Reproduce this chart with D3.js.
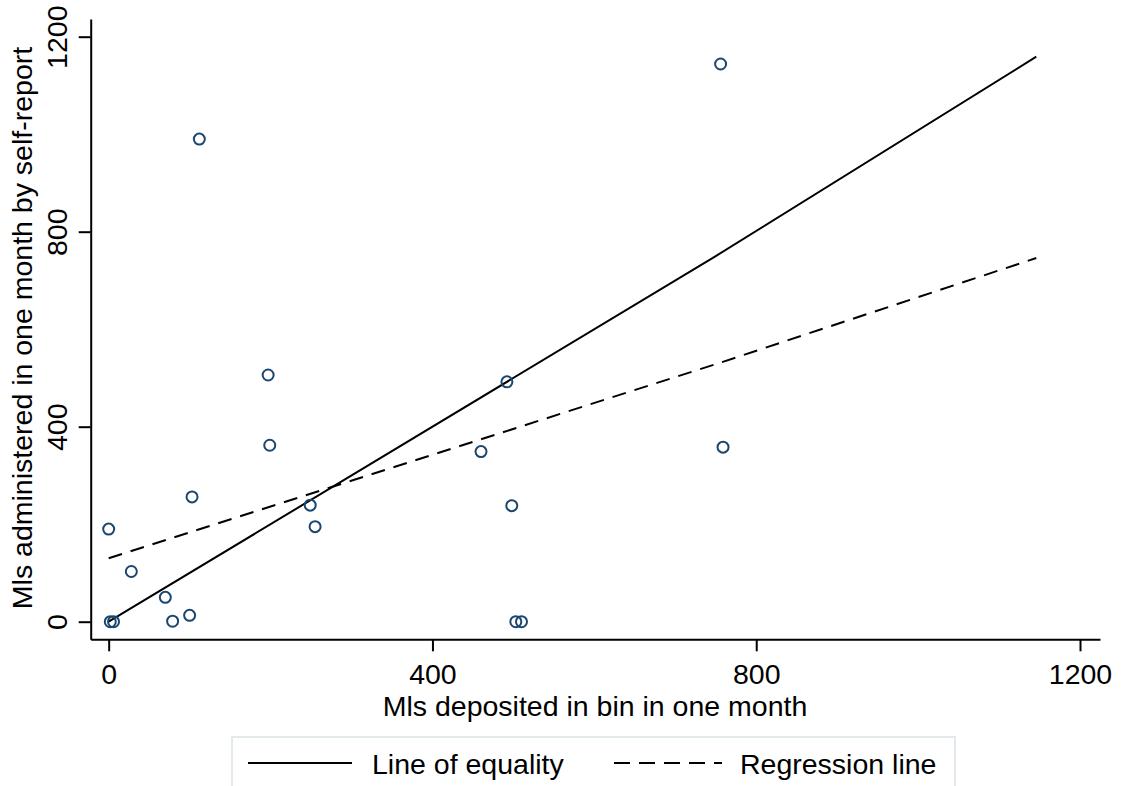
<!DOCTYPE html>
<html lang="en">
	<head>
		<meta charset="UTF-8" />
		<title>Mls deposited vs self-report</title>
		<style>
			html,
			body {
				margin: 0;
				padding: 0;
				background-color: #fff;
				overflow: hidden;
			}

			#chart text {
				font-family: 'Liberation Sans', Arial, sans-serif;
				fill: #000;
			}
		</style>
	</head>
	<body>
		<svg id="chart"></svg>

		<script src="https://d3js.org/d3.v7.min.js"></script>

		<script>
			// Mls deposited in bin vs Mls by self-report (one point per household)
			const deposited = [0, 2, 6, 28, 70, 79, 100, 103, 112, 197, 199, 249, 255, 460, 492, 498, 503, 510, 756, 759];
			const selfReport = [190, 0, 0, 103, 50, 1, 13, 256, 990, 506, 362, 239, 195, 349, 492, 238, 0, 0, 1144, 358];

			const equalityX = [0, 750, 1146];
			const equalityY = [0, 750, 1159];
			const regressionX = [0, 755, 1146];
			const regressionY = [130, 531, 746];

			const xTicks = [0, 400, 800, 1200];
			const yTicks = [0, 400, 800, 1200];
			const legendLabels = ['Line of equality', 'Regression line'];

			const width = 1124;
			const height = 786;
			const fontSize = '28.5px';

			const svg = d3.select('#chart').attr('width', width).attr('height', height);

			const x = d3.scaleLinear().domain([-22.2, 1224.7]).range([90.7, 1100]);
			const y = d3.scaleLinear().domain([-36.1, 1236.3]).range([639.3, 19]);

			// axes
			const xAxis = svg
				.append('g')
				.attr('transform', 'translate(0,639.3)')
				.call(
					d3
						.axisBottom(x)
						.tickValues(xTicks)
						.tickFormat(d3.format('d'))
						.tickSizeInner(12)
						.tickSizeOuter(0)
				);
			xAxis.select('.domain').attr('stroke', '#000').attr('stroke-width', 2);
			xAxis.selectAll('.tick line').attr('stroke', '#000').attr('stroke-width', 2);
			xAxis.selectAll('text').attr('y', 44.5).attr('dy', 0).style('font-size', fontSize);

			const yAxis = svg
				.append('g')
				.attr('transform', 'translate(90.7,0)')
				.call(
					d3
						.axisLeft(y)
						.tickValues(yTicks)
						.tickFormat(d3.format('d'))
						.tickSizeInner(12)
						.tickSizeOuter(0)
				);
			yAxis.select('.domain').attr('stroke', '#000').attr('stroke-width', 2);
			yAxis.selectAll('.tick line').attr('stroke', '#000').attr('stroke-width', 2);
			yAxis
				.selectAll('text')
				.attr('x', 0)
				.attr('dy', 0)
				.attr('transform', 'translate(-24,0) rotate(-90)')
				.attr('text-anchor', 'middle')
				.style('font-size', fontSize);

			// axis titles
			svg.append('text')
				.attr('x', 595)
				.attr('y', 716)
				.attr('text-anchor', 'middle')
				.style('font-size', fontSize)
				.text('Mls deposited in bin in one month');

			svg.append('text')
				.attr('transform', 'translate(32,328) rotate(-90)')
				.attr('text-anchor', 'middle')
				.style('font-size', fontSize)
				.text('Mls administered in one month by self-report');

			// lines
			const lineGen = d3
				.line()
				.x((d) => x(d[0]))
				.y((d) => y(d[1]));

			svg.append('path')
				.datum(d3.zip(equalityX, equalityY))
				.attr('d', lineGen)
				.attr('fill', 'none')
				.attr('stroke', '#000')
				.attr('stroke-width', 2);

			svg.append('path')
				.datum(d3.zip(regressionX, regressionY))
				.attr('d', lineGen)
				.attr('fill', 'none')
				.attr('stroke', '#000')
				.attr('stroke-width', 2)
				.attr('stroke-dasharray', '14,9');

			// points
			svg.append('g')
				.selectAll('circle')
				.data(d3.zip(deposited, selfReport))
				.join('circle')
				.attr('cx', (d) => x(d[0]))
				.attr('cy', (d) => y(d[1]))
				.attr('r', 5.5)
				.attr('fill', 'none')
				.attr('stroke', '#1a476f')
				.attr('stroke-width', 2);

			// legend
			const legend = svg.append('g');
			legend
				.append('rect')
				.attr('x', 232)
				.attr('y', 737)
				.attr('width', 723)
				.attr('height', 70)
				.attr('fill', '#fff')
				.attr('stroke', '#e3eaee')
				.attr('stroke-width', 2);

			const items = [
				{ label: legendLabels[0], x1: 248, x2: 352, tx: 372, dash: null },
				{ label: legendLabels[1], x1: 614, x2: 722, tx: 740, dash: '16,9' }
			];
			items.forEach((it) => {
				legend
					.append('line')
					.attr('x1', it.x1)
					.attr('x2', it.x2)
					.attr('y1', 763)
					.attr('y2', 763)
					.attr('stroke', '#000')
					.attr('stroke-width', 2)
					.attr('stroke-dasharray', it.dash);
				legend
					.append('text')
					.attr('x', it.tx)
					.attr('y', 774)
					.style('font-size', fontSize)
					.text(it.label);
			});
		</script>
	</body>
</html>
